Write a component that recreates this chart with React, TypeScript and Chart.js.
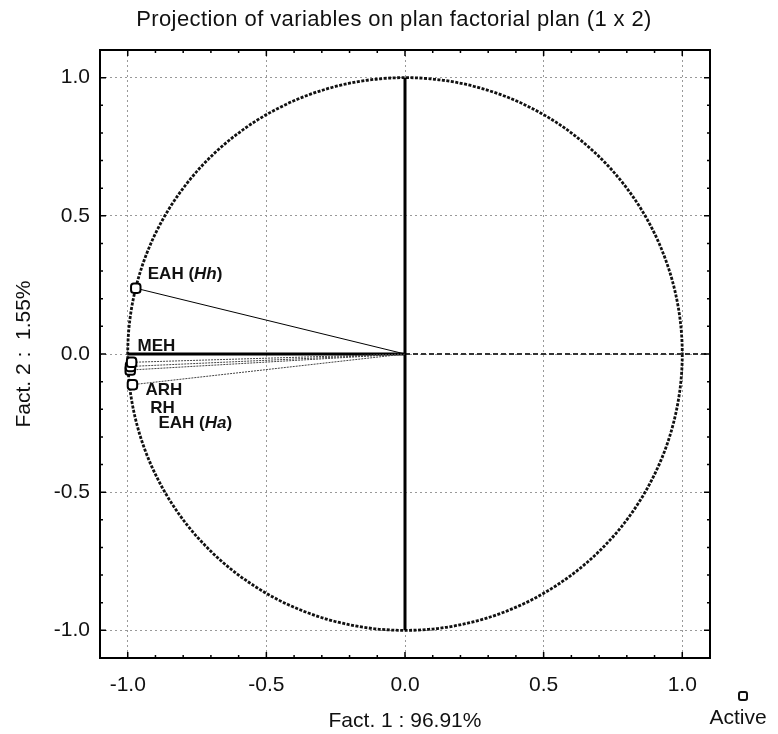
import React, { useEffect, useRef } from "react";
import { Chart, registerables } from "chart.js";

Chart.register(...registerables);

// ---- data ----
const variableNames = ["EAH (Hh)", "MEH", "ARH", "RH", "EAH (Ha)"];
const italicParts = ["Hh", "", "", "", "Ha"];
const fact1 = [-0.971, -0.986, -0.99, -0.991, -0.983];
const fact2 = [0.238, -0.03, -0.045, -0.058, -0.111];
const tickValues = [-1.0, -0.5, 0.0, 0.5, 1.0];
const chartTitle = "Projection of variables on plan factorial plan (1 x 2)";
const xTitle = "Fact. 1 : 96.91%";
const yTitle = "Fact. 2 :  1.55%";
const legendLabel = "Active";

// ---- style (label offsets in px relative to point) ----
const labelOffsets = [
  { dx: 12, dy: -14 },
  { dx: 6, dy: -16 },
  { dx: 15, dy: 24 },
  { dx: 20, dy: 38 },
  { dx: 26, dy: 39 },
];

const FONT = "'Liberation Sans', Arial, sans-serif";

function drawRichLabel(ctx: CanvasRenderingContext2D, text: string, italic: string, x: number, y: number) {
  ctx.textAlign = "left";
  ctx.textBaseline = "middle";
  const size = 17;
  if (!italic) {
    ctx.font = `bold ${size}px ${FONT}`;
    ctx.fillText(text, x, y);
    return;
  }
  const idx = text.indexOf(italic);
  const parts = [
    { t: text.slice(0, idx), i: false },
    { t: italic, i: true },
    { t: text.slice(idx + italic.length), i: false },
  ];
  let cx = x;
  for (const p of parts) {
    ctx.font = `${p.i ? "italic " : ""}bold ${size}px ${FONT}`;
    ctx.fillText(p.t, cx, y);
    cx += ctx.measureText(p.t).width;
  }
}

const decorPlugin = {
  id: "decor",
  beforeDatasetsDraw(chart: any) {
    const { ctx, scales } = chart;
    const xs = scales.x;
    const ys = scales.y;
    const cx = xs.getPixelForValue(0);
    const cy = ys.getPixelForValue(0);
    const rx = xs.getPixelForValue(1) - cx;
    const ry = cy - ys.getPixelForValue(1);
    ctx.save();
    // unit circle
    ctx.strokeStyle = "#111";
    ctx.lineWidth = 2.8;
    ctx.setLineDash([3, 1.5]);
    ctx.beginPath();
    ctx.ellipse(cx, cy, rx, ry, 0, 0, Math.PI * 2);
    ctx.stroke();
    // right dashed horizontal
    ctx.strokeStyle = "#333";
    ctx.lineWidth = 2;
    ctx.setLineDash([5, 3]);
    ctx.beginPath();
    ctx.moveTo(cx, cy);
    ctx.lineTo(chart.chartArea.right, cy);
    ctx.stroke();
    // thick axes
    ctx.setLineDash([]);
    ctx.strokeStyle = "#000";
    ctx.lineWidth = 3;
    ctx.beginPath();
    ctx.moveTo(xs.getPixelForValue(-1), cy);
    ctx.lineTo(cx, cy);
    ctx.moveTo(cx, ys.getPixelForValue(1));
    ctx.lineTo(cx, ys.getPixelForValue(-1));
    ctx.stroke();
    ctx.restore();
  },
  afterDatasetsDraw(chart: any) {
    const { ctx, scales, chartArea } = chart;
    const xs = scales.x;
    const ys = scales.y;
    const { left, right, top, bottom } = chartArea;
    ctx.save();
    // frame
    ctx.strokeStyle = "#000";
    ctx.lineWidth = 2;
    ctx.setLineDash([]);
    ctx.strokeRect(left, top, right - left, bottom - top);
    // tick marks, pointing inward
    ctx.lineWidth = 1.5;
    ctx.beginPath();
    for (let i = -10; i <= 10; i++) {
      const v = i / 10;
      const len = i % 5 === 0 ? 6 : 3;
      const px = xs.getPixelForValue(v);
      const py = ys.getPixelForValue(v);
      ctx.moveTo(px, bottom);
      ctx.lineTo(px, bottom - len);
      ctx.moveTo(px, top);
      ctx.lineTo(px, top + len);
      ctx.moveTo(left, py);
      ctx.lineTo(left + len, py);
      ctx.moveTo(right, py);
      ctx.lineTo(right - len, py);
    }
    ctx.stroke();
    // point labels
    ctx.fillStyle = "#111";
    variableNames.forEach((name, i) => {
      const px = xs.getPixelForValue(fact1[i]);
      const py = ys.getPixelForValue(fact2[i]);
      drawRichLabel(ctx, name, italicParts[i], px + labelOffsets[i].dx, py + labelOffsets[i].dy);
    });
    // chart title
    ctx.font = `22px ${FONT}`;
    (ctx as any).letterSpacing = "0.4px";
    ctx.textAlign = "center";
    ctx.textBaseline = "middle";
    ctx.fillStyle = "#111";
    ctx.fillText(chartTitle, 394, 20);
    (ctx as any).letterSpacing = "0px";
    // legend
    ctx.strokeStyle = "#111";
    ctx.lineWidth = 2;
    ctx.fillStyle = "#fff";
    ctx.beginPath();
    ctx.roundRect(739, 692, 8, 8, 2);
    ctx.fill();
    ctx.stroke();
    ctx.fillStyle = "#111";
    ctx.font = `21px ${FONT}`;
    ctx.fillText(legendLabel, 738, 718);
    ctx.restore();
  },
};

export default function App() {
  const ref = useRef<HTMLCanvasElement | null>(null);
  useEffect(() => {
    if (!ref.current) return;
    const datasets = variableNames.map((name, i) => ({
      label: name,
      data: [
        { x: 0, y: 0 },
        { x: fact1[i], y: fact2[i] },
      ],
      showLine: true,
      borderColor: i === 0 ? "#000" : "#444",
      borderWidth: 1,
      borderDash: i === 0 ? [] : [2, 1],
      pointRadius: [0, 5.5],
      pointStyle: "rectRounded",
      pointBackgroundColor: "#fff",
      pointBorderColor: "#000",
      pointBorderWidth: 2,
    }));
    const axisCommon = {
      type: "linear" as const,
      min: -1.1,
      max: 1.1,
      grid: { color: "#999", lineWidth: 1, drawTicks: false },
      border: { display: false, dash: [2, 3] },
    };
    const chart = new Chart(ref.current, {
      type: "scatter",
      data: { datasets },
      options: {
        responsive: false,
        animation: false,
        events: [],
        layout: { padding: { top: 50, right: 68, left: 0, bottom: 0 } },
        plugins: { legend: { display: false }, tooltip: { enabled: false }, title: { display: false } },
        scales: {
          x: {
            ...axisCommon,
            afterFit: (s: any) => { s.height = 76; },
            afterBuildTicks: (s: any) => { s.ticks = tickValues.map((v) => ({ value: v })); },
            ticks: {
              padding: 15,
              color: "#111",
              font: { family: FONT, size: 21 },
              callback: (v: any) => Number(v).toFixed(1),
            },
            title: {
              display: true,
              text: xTitle,
              color: "#111",
              font: { family: FONT, size: 21 },
              padding: { top: 0, bottom: 0 },
            },
          },
          y: {
            ...axisCommon,
            afterFit: (s: any) => { s.width = 100; },
            afterBuildTicks: (s: any) => { s.ticks = tickValues.map((v) => ({ value: v })); },
            ticks: {
              padding: 10,
              color: "#111",
              font: { family: FONT, size: 21 },
              callback: (v: any) => Number(v).toFixed(1),
            },
            title: {
              display: true,
              text: yTitle,
              color: "#111",
              font: { family: FONT, size: 21 },
              padding: { top: 12, bottom: 12 },
            },
          },
        },
      },
      plugins: [decorPlugin],
    } as any);
    return () => chart.destroy();
  }, []);
  return (
    <div style={{ position: "fixed", left: 0, top: 0, width: 778, height: 734, background: "#fff" }}>
      <canvas ref={ref} width={778} height={734} style={{ width: 778, height: 734 }} />
    </div>
  );
}
